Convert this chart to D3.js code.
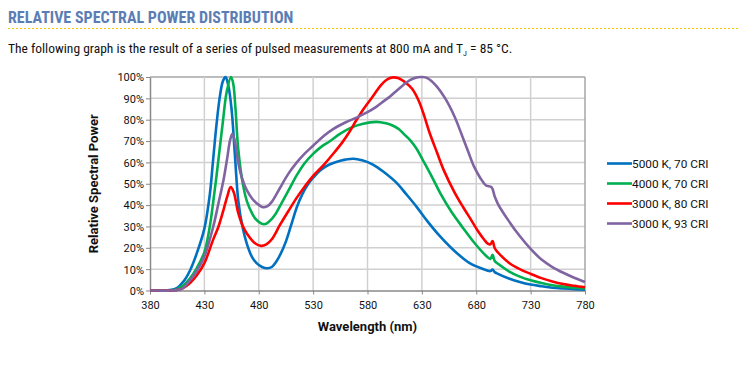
<!DOCTYPE html>
<html>
<head>
<meta charset="utf-8">
<script src="https://cdn.jsdelivr.net/npm/d3@7"></script>
<style>
  body { margin: 0; background: #fff; }
  svg { display: block; }
</style>
</head>
<body>
<div id="chart"></div>
<script>
// wavelength (nm) / relative power (%) pairs
const blue5000 = [[380,0],[395,0],[400,0.3],[405,1.2],[408,2.6],[412,5],[417,9.6],[423,17.4],[430,29],[435,45],[438,61],[441,77],[444,90],[447,98],[449.5,100],[452,96],[455,85],[458,64],[461.2,42],[465,30],[469,22],[474,15.5],[478,12.8],[483,11],[488,10.4],[492,11],[496,13.5],[500,17],[505,23],[510,31],[515,39],[520,45],[525,49.5],[530,52.8],[537,56.5],[545,59],[555,60.8],[567,61.7],[575,61],[585,59],[595,55.5],[607,50.3],[615,45.5],[625,39.3],[635,32.5],[647,25.2],[660,18.5],[674,12.8],[685,10.3],[693,9.1],[695,9.8],[697,8.6],[700,7.8],[710,5.6],[720,4],[730,2.8],[740,2],[750,1.3],[760,0.9],[770,0.6],[780,0.4]];
const green4000 = [[380,0],[398,0],[403,0.3],[408,1.5],[412,3],[416.8,5.7],[422.9,10.4],[430,18],[435,30],[438,41],[441,53],[444,66],[447,79],[450.5,93],[454.5,100],[456.5,97],[458.5,86],[461,67],[465,51],[469,42],[474,36],[478,33],[485,31],[490,32.5],[495,35.5],[500,40],[507,46.5],[515,54],[522,59.5],[530,64],[538,67.5],[545,69.8],[555,73.5],[565,76.3],[575,78],[588,79],[597,78.3],[603,77.3],[609,75.5],[614,73],[619,70.6],[625,66.5],[631,61],[639,53.5],[647,45.5],[657,37],[668,29.2],[678,22.5],[689,16.3],[693,14.8],[695,16.7],[697,13.8],[700,12.5],[710,9],[720,6.5],[730,4.8],[740,3.5],[750,2.5],[760,1.8],[770,1.3],[780,1]];
const red3000 = [[380,0],[400,0],[405,0.3],[410,1],[416.8,3.5],[422.9,7],[430,12.8],[438,23.7],[443,30],[447.6,37.8],[451,44],[454.2,48.4],[457,46],[461.2,36.2],[465,30.5],[468.9,26.8],[476.6,22.1],[482,20.9],[487,21.6],[492,24],[499.5,30.7],[507,37],[515,43.5],[522,48.5],[530,53.7],[540,59],[550,65],[557,69.5],[563,74],[570,80],[577,85.5],[585,91],[592,96],[597,98.5],[602,99.7],[608,99.5],[616,97],[621,94.5],[627,89],[632,82],[637,74],[644,64.5],[650,56.5],[660,46],[668,39],[675,33.3],[682,27.5],[687,24],[691,21.8],[693,21.6],[695,23.2],[697,19.8],[700,17.8],[710,13],[720,10],[730,7.8],[740,5.8],[750,4.2],[760,3],[770,2.2],[780,1.5]];
const purple3000 = [[380,0],[400,0],[405,0.3],[410,1],[416.8,4.8],[422.9,9],[430,15.9],[438.2,30],[443,41],[447.6,51.8],[451,62],[453.5,70],[455.7,73.4],[458,70],[461.2,59.7],[465,52],[468.9,47.1],[474,43],[478,40.9],[483.6,39],[488,39.5],[492,41.5],[499.5,48],[507,54.5],[515,60],[522,64],[530,67.8],[540,72.5],[548,75.5],[560,78.8],[570,81],[580,83.5],[588,86],[595,88.7],[601,91],[607,93.7],[613,96.3],[619,98.5],[625,99.8],[630,100],[635,99.5],[643,96],[652,89.5],[660,81.5],[667,72.5],[673,64.5],[678,58],[684,52.5],[689,49.2],[694,48.4],[697,44],[700,40.5],[710,32.5],[720,25.5],[730,19.5],[740,14.5],[750,11],[760,8.3],[770,6],[780,4]];

const seriesNames = ["5000 K, 70 CRI", "4000 K, 70 CRI", "3000 K, 80 CRI", "3000 K, 93 CRI"];
const seriesColors = ["#0070c0", "#00b050", "#ff0000", "#8064a2"];
const seriesData = [blue5000, green4000, red3000, purple3000];

const xTicks = [380, 430, 480, 530, 580, 630, 680, 730, 780];
const yTicks = [0, 10, 20, 30, 40, 50, 60, 70, 80, 90, 100];

const W = 738, H = 374;
const plot = { left: 150, right: 585, top: 77, bottom: 290.5 };
const font = "Roboto, 'Liberation Sans', Arial, sans-serif";

const svg = d3.select("#chart").append("svg")
  .attr("width", W)
  .attr("height", H);

// header
svg.append("text")
  .attr("x", 8).attr("y", 22.5)
  .attr("font-family", "'Liberation Sans Narrow', 'Roboto Condensed', Roboto, sans-serif")
  .attr("font-weight", "bold")
  .attr("font-size", "16px")
  .attr("fill", "#5b7db4")
  .text("RELATIVE SPECTRAL POWER DISTRIBUTION");

svg.append("line")
  .attr("x1", 8).attr("x2", 738)
  .attr("y1", 28.5).attr("y2", 28.5)
  .attr("stroke", "#f5c400")
  .attr("stroke-width", 1)
  .attr("stroke-dasharray", "2,2");

let sub = svg.append("text")
  .attr("x", 8).attr("y", 52.5)
  .attr("font-family", "'Liberation Sans Narrow', 'Roboto Condensed', Roboto, sans-serif")
  .attr("font-size", "13.5px")
  .attr("fill", "#111");
sub.append("tspan").text("The following graph is the result of a series of pulsed measurements at 800 mA and T");
sub.append("tspan").attr("font-size", "8px").attr("dy", 3).text("J");
sub.append("tspan").attr("dy", -3).text(" = 85 °C.");

/////////////////////////////
const xScale = d3.scaleLinear().domain([380, 780]).range([plot.left, plot.right]);
const yScale = d3.scaleLinear().domain([0, 100]).range([plot.bottom, plot.top]);

const chart = svg.append("g");

// grid
chart.append("g")
  .selectAll("line")
  .data(yTicks.slice(1))
  .join("line")
  .attr("x1", plot.left).attr("x2", plot.right)
  .attr("y1", d => yScale(d)).attr("y2", d => yScale(d))
  .attr("stroke", d => d == 100 ? "#a6a6a6" : "#d0d0d0")
  .attr("stroke-width", 1.5);

chart.append("g")
  .selectAll("line")
  .data(xTicks.slice(1))
  .join("line")
  .attr("x1", d => xScale(d)).attr("x2", d => xScale(d))
  .attr("y1", plot.top).attr("y2", plot.bottom)
  .attr("stroke", d => d == 780 ? "#a6a6a6" : "#d0d0d0")
  .attr("stroke-width", 1.5);

// axes
const xAxis = d3.axisBottom(xScale).tickValues(xTicks).tickSize(4).tickSizeOuter(0);
const yAxis = d3.axisLeft(yScale).tickValues(yTicks).tickSize(4).tickSizeOuter(0).tickFormat(d => d + "%");

const gx = chart.append("g")
  .attr("transform", `translate(0,${plot.bottom})`)
  .call(xAxis);
const gy = chart.append("g")
  .attr("transform", `translate(${plot.left},0)`)
  .call(yAxis);

[gx, gy].forEach(g => {
  g.select(".domain").attr("stroke", "#888").attr("stroke-width", 1.5);
  g.selectAll(".tick line").attr("stroke", "#888").attr("stroke-width", 1);
  g.selectAll("text")
    .attr("font-family", font)
    .attr("font-size", "11px")
    .attr("fill", "#111");
});
gx.selectAll("text").attr("dy", "1.0em");
gy.selectAll("text").attr("x", -6).attr("dy", "0.35em");

// axis titles
svg.append("text")
  .attr("x", (plot.left + plot.right) / 2)
  .attr("y", 331)
  .attr("text-anchor", "middle")
  .attr("font-family", font)
  .attr("font-weight", "bold")
  .attr("font-size", "13px")
  .attr("fill", "#111")
  .text("Wavelength (nm)");

svg.append("text")
  .attr("transform", `translate(98,${(plot.top + plot.bottom) / 2}) rotate(-90)`)
  .attr("text-anchor", "middle")
  .attr("font-family", font)
  .attr("font-weight", "bold")
  .attr("font-size", "13px")
  .attr("fill", "#111")
  .text("Relative Spectral Power");

/////////////////////////////
const line = d3.line()
  .x(d => xScale(d[0]))
  .y(d => yScale(d[1]))
  .curve(d3.curveCatmullRom.alpha(0.5));

chart.append("g")
  .selectAll("path")
  .data(seriesData)
  .join("path")
  .attr("fill", "none")
  .attr("stroke", (d, i) => seriesColors[i])
  .attr("stroke-width", 2.6)
  .attr("stroke-linejoin", "round")
  .attr("d", line);

// legend
const legend = svg.append("g")
  .selectAll("g")
  .data(seriesNames)
  .join("g")
  .attr("transform", (d, i) => `translate(607,${163.5 + i * 20})`);

legend.append("line")
  .attr("x1", 0).attr("x2", 25)
  .attr("stroke", (d, i) => seriesColors[i])
  .attr("stroke-width", 2.6);

legend.append("text")
  .attr("x", 25)
  .attr("dy", "0.35em")
  .attr("font-family", font)
  .attr("font-size", "11.8px")
  .attr("fill", "#111")
  .text(d => d);
</script>
</body>
</html>
